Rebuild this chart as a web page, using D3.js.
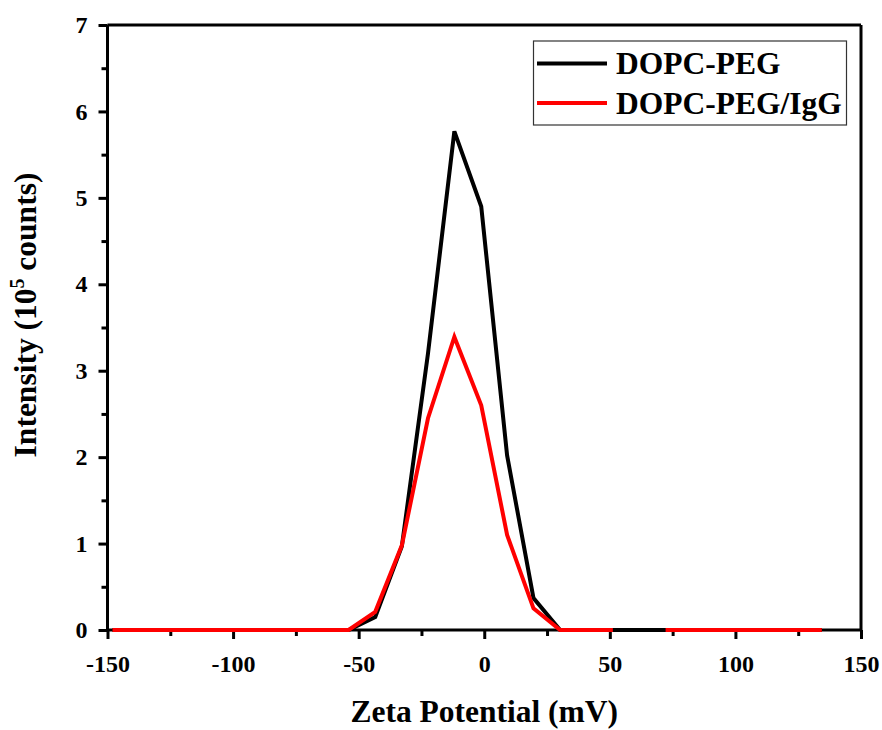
<!DOCTYPE html>
<html>
<head>
<meta charset="utf-8">
<script src="https://cdn.jsdelivr.net/npm/d3@7"></script>
<style>
  body { margin: 0; background: #fff; }
  svg { font-family: "Liberation Serif", "Times New Roman", serif; font-weight: bold; }
</style>
</head>
<body>
<div id="graph"></div>
<script>
// zeta potential (mV) sample points
const zeta = [-148, -137.5, -127, -116.5, -106, -95.5, -85, -74.5, -64.4, -54, -43.4, -32.8, -22.4,
              -11.9, -1.2, 9.1, 19.6, 30.2, 40.7, 51.2, 61.7, 72.2, 82.7, 93.2, 103.7, 114.1, 124.4, 134.4];
// intensity, 10^5 counts
const dopcPeg = [0, 0, 0, 0, 0, 0, 0, 0, 0, 0, 0.15, 0.97, 3.2,
                 5.77, 4.9, 2.02, 0.37, 0, 0, 0, 0, 0, 0, 0, 0, 0, 0, 0];
const dopcPegIgg = [0, 0, 0, 0, 0, 0, 0, 0, 0, 0, 0.21, 0.98, 2.45,
                    3.39, 2.6, 1.1, 0.25, 0, 0, 0, null, 0, 0, 0, 0, 0, 0, 0];
const seriesNames = ["DOPC-PEG", "DOPC-PEG/IgG"];
const seriesColors = ["#000000", "#ff0000"];
const xTicks = [-150, -100, -50, 0, 50, 100, 150];
const yTicks = [0, 1, 2, 3, 4, 5, 6, 7];

const width = 882, height = 730;
const margin = {left: 107.5, right: 21, top: 25, bottom: 100};

const svg = d3.select("#graph").append("svg")
  .attr("width", width).attr("height", height);

const xScale = d3.scaleLinear().domain([-150, 150]).range([margin.left, width - margin.right]);
const yScale = d3.scaleLinear().domain([0, 7]).range([height - margin.bottom, margin.top]);
const fmt = d => String(d); // plain hyphen minus, no decimals

// frame (top and right, no ticks)
svg.append("line")
  .attr("x1", xScale(-150)).attr("x2", xScale(150))
  .attr("y1", yScale(7)).attr("y2", yScale(7))
  .attr("stroke", "#000").attr("stroke-width", 3);
svg.append("line")
  .attr("x1", xScale(150)).attr("x2", xScale(150))
  .attr("y1", yScale(7)).attr("y2", yScale(0))
  .attr("stroke", "#000").attr("stroke-width", 3);

// minor ticks
const bottomMinor = svg.append("g")
  .attr("transform", `translate(0,${yScale(0)})`)
  .call(d3.axisBottom(xScale).tickValues(d3.range(-125, 150, 50)).tickSize(6).tickFormat(""));
const leftMinor = svg.append("g")
  .attr("transform", `translate(${xScale(-150)},0)`)
  .call(d3.axisLeft(yScale).tickValues(d3.range(0.5, 7, 1)).tickSize(6).tickFormat(""));

// major axes
const bottomAxis = svg.append("g")
  .attr("transform", `translate(0,${yScale(0)})`)
  .call(d3.axisBottom(xScale).tickValues(xTicks).tickFormat(fmt).tickSize(9).tickPadding(16).tickSizeOuter(0));
const leftAxis = svg.append("g")
  .attr("transform", `translate(${xScale(-150)},0)`)
  .call(d3.axisLeft(yScale).tickValues(yTicks).tickFormat(fmt).tickSize(9).tickPadding(11).tickSizeOuter(0));

[bottomMinor, leftMinor, bottomAxis, leftAxis].forEach(g => {
  g.selectAll("path").attr("stroke-width", 3);
  g.selectAll("line").attr("stroke-width", 3);
  g.selectAll("text").attr("font-size", 24).attr("font-weight", "bold")
    .attr("font-family", "Liberation Serif, Times New Roman, serif").attr("fill", "#000");
});
bottomMinor.select("path").remove();
leftMinor.select("path").remove();
bottomAxis.select(".domain").attr("d", `M${xScale(-150)},0H${xScale(150)}`);
leftAxis.select(".domain").attr("d", `M0,${yScale(0)}V${yScale(7)}`);

// data lines, drawn over the axes
const series = [dopcPeg, dopcPegIgg];
series.forEach((vals, i) => {
  const line = d3.line()
    .defined((d, j) => vals[j] !== null)
    .x((d, j) => xScale(zeta[j]))
    .y((d, j) => yScale(vals[j]));
  svg.append("path")
    .datum(vals)
    .attr("fill", "none")
    .attr("stroke", seriesColors[i])
    .attr("stroke-width", 4)
    .attr("stroke-linejoin", "miter")
    .attr("d", line);
});

// axis titles
svg.append("text")
  .attr("x", xScale(0)).attr("y", 722)
  .attr("text-anchor", "middle")
  .attr("font-size", 31.5)
  .text("Zeta Potential (mV)");

const yTitle = svg.append("text")
  .attr("text-anchor", "middle")
  .attr("font-size", 31.5)
  .attr("transform", "translate(36,315) rotate(-90)");
yTitle.append("tspan").text("Intensity (10");
yTitle.append("tspan").attr("font-size", 20).attr("dy", -12).text("5");
yTitle.append("tspan").attr("dy", 12).text(" counts)");

// legend
const legend = svg.append("g");
legend.append("rect")
  .attr("x", 533.5).attr("y", 41)
  .attr("width", 313).attr("height", 84)
  .attr("fill", "#fff").attr("stroke", "#333").attr("stroke-width", 1.2);
seriesNames.forEach((name, i) => {
  const y = 63.5 + i * 39.5;
  legend.append("line")
    .attr("x1", 537).attr("x2", 607)
    .attr("y1", y).attr("y2", y)
    .attr("stroke", seriesColors[i]).attr("stroke-width", 4);
  legend.append("text")
    .attr("x", 616).attr("y", y + 10.5)
    .attr("font-size", 31.5)
    .text(name);
});
</script>
</body>
</html>
